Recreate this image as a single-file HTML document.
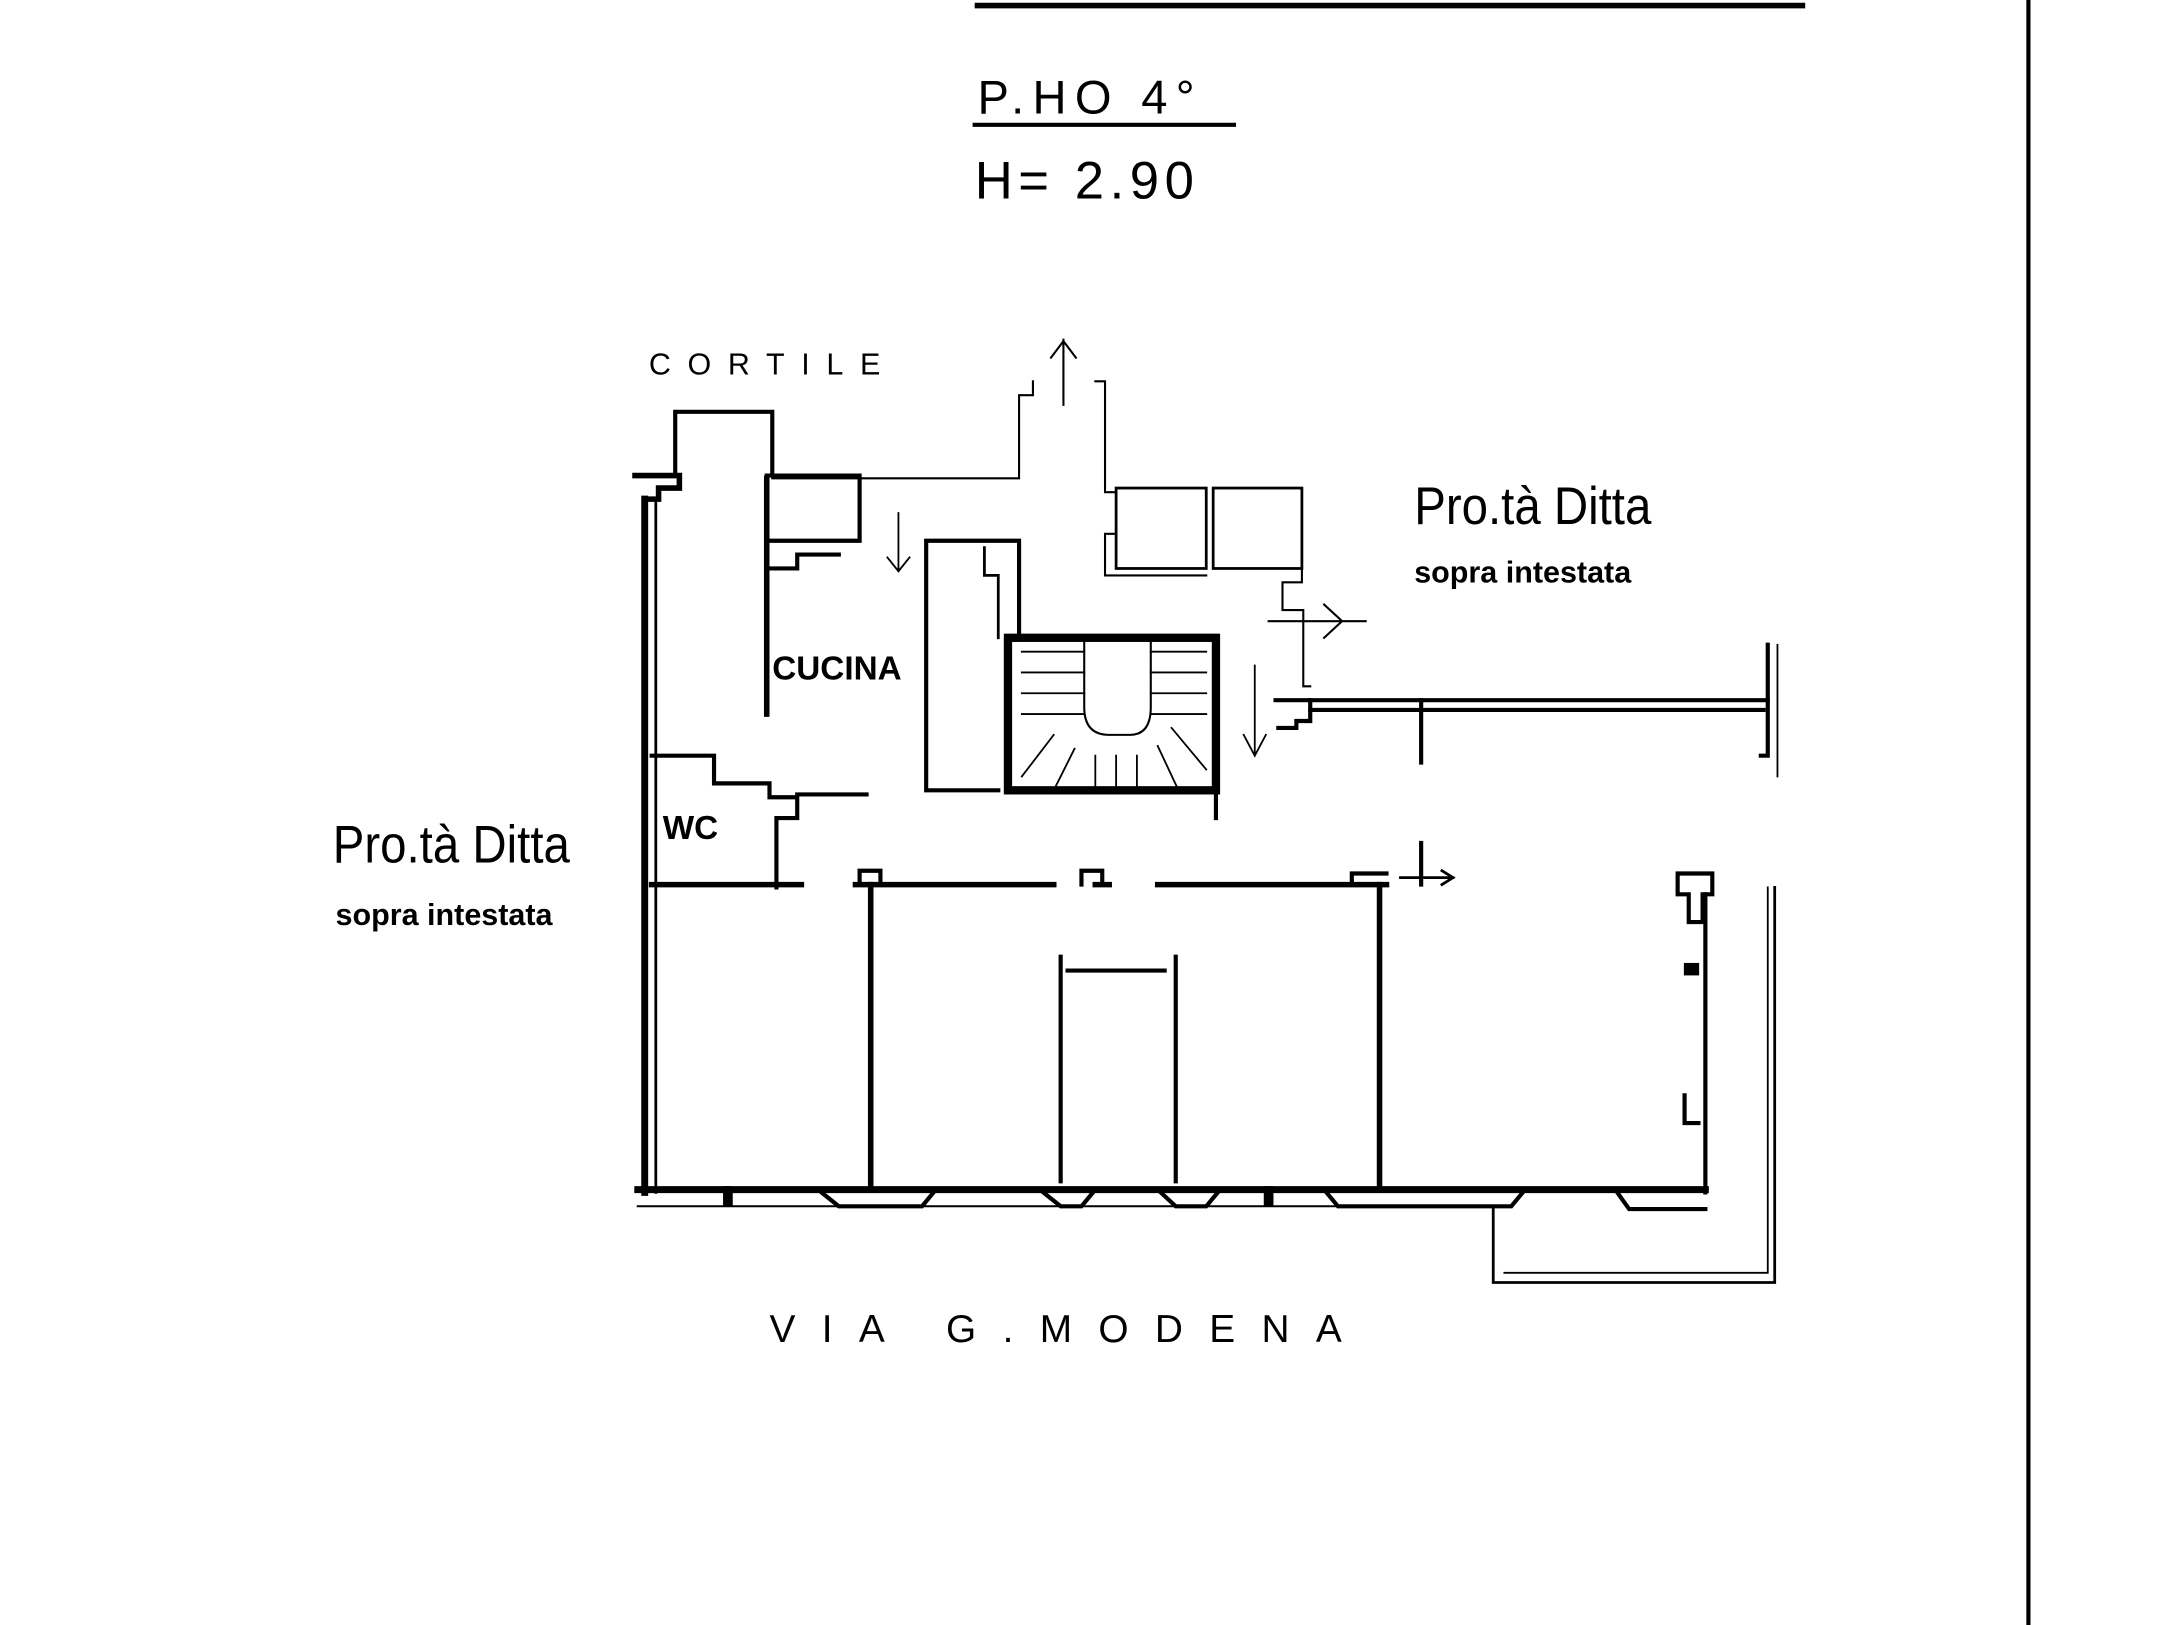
<!DOCTYPE html>
<html><head><style>
html,body{margin:0;padding:0;background:#fff;width:2174px;height:1625px;overflow:hidden}
svg{display:block}
</style></head><body>
<svg width="2174" height="1625" viewBox="0 0 1568 1172" preserveAspectRatio="none" xmlns="http://www.w3.org/2000/svg">
<rect width="1568" height="1172" fill="#fff"/>
<g stroke="#000" fill="none" stroke-linecap="square">
<line x1="705" y1="4" x2="1300" y2="4" stroke-width="4"/>
<line x1="1463" y1="0" x2="1463" y2="1172" stroke-width="3"/>
<line x1="703" y1="90" x2="890" y2="90" stroke-width="3"/>
<path d="M487 340 V297 H557 V340" stroke-width="3"/>
<path d="M458 343 H490 V352 H475 V360 H466" stroke-width="4"/>
<path d="M557 345 H735 V285 H745 V275 M790 275 H797 V355 H805" stroke-width="1.5"/>
<path d="M767 245 V292 M758 258 L767 246 L776 258" stroke-width="1.5"/>
<rect x="805" y="352" width="65" height="58" stroke-width="2"/>
<rect x="875" y="352" width="64" height="58" stroke-width="2"/>
<path d="M805 385 H797 V415 H870 M939 405 V420 H925 V440 H940 V495 H945" stroke-width="1.5"/>
<path d="M915 448 H985 M955 436 L968 448 L955 460" stroke-width="1.5"/>
<path d="M465 360 V860" stroke-width="5"/>
<path d="M473 360 V860" stroke-width="2"/>
<path d="M460 858 H1230" stroke-width="5"/>
<path d="M460 870 H1080" stroke-width="1.5"/>
<path d="M553 345 V515" stroke-width="4"/>
<path d="M553 343 H620 V390 H555" stroke-width="3"/>
<path d="M555 410 H575 V400 H605" stroke-width="3"/>
<path d="M648 370 V412 M640 402 L648 412 L656 402" stroke-width="1.3"/>
<path d="M668 390 H735 V460 M668 390 V570 H720" stroke-width="3"/>
<path d="M710 395 V415 H720 V460" stroke-width="2"/>
<rect x="727" y="460" width="150" height="110" stroke-width="6"/>
<path d="M782 460 V510 Q782 530 800 530 H815 Q830 530 830 510 V460" stroke-width="1.5"/>
<path d="M737 470 H782 M737 485 H782 M737 500 H782 M737 515 H782 M830 470 H870 M830 485 H870 M830 500 H870 M830 515 H870 M760 530 L737 560 M775 540 L760 570 M790 545 V570 M805 545 V570 M820 545 V570 M835 538 L850 570 M845 525 L870 555" stroke-width="1.3"/>
<path d="M877 500 V590" stroke-width="3"/>
<path d="M905 480 V545 M897 530 L905 545 L913 530" stroke-width="1.3"/>
<path d="M470 545 H515 V565 H555 V575 H575 V590 H560 V640" stroke-width="3"/>
<path d="M575 573 H625" stroke-width="3"/>
<path d="M470 638 H578 M617 638 H760 M790 638 H800 M835 638 H1000" stroke-width="4"/>
<path d="M620 638 V628 H635 V638 M780 638 V628 H795 V638 M975 638 V630 H1000" stroke-width="3"/>
<path d="M628 638 V858 M995 638 V858" stroke-width="4"/>
<path d="M765 690 V852 M848 690 V852 M770 700 H840" stroke-width="3"/>
<path d="M945 505 H1275 M945 512 H1272" stroke-width="3"/>
<path d="M920 505 H945 V520 H935 V525 H922" stroke-width="3"/>
<path d="M1025 505 V550 M1025 608 V638" stroke-width="3"/>
<path d="M1275 465 V545 H1270" stroke-width="3"/>
<path d="M1282 465 V560" stroke-width="1.3"/>
<path d="M1280 640 V925 H1077 V870" stroke-width="2"/>
<path d="M1275 640 V918 H1085" stroke-width="1.3"/>
<path d="M1210 630 H1235 V645 H1228 V665 H1218 V645 H1210 Z" stroke-width="3"/>
<path d="M1230 645 V860" stroke-width="3"/>
<path d="M1010 633 H1048 M1040 628 L1048 633 L1040 638" stroke-width="2"/>
<path d="M590 858 L605 870 H665 L675 858 M750 858 L765 870 H780 L790 858 M835 858 L848 870 H870 L880 858 M955 858 L965 870 H1090 L1100 858 M1165 858 L1175 872 H1230" stroke-width="3"/>
<rect x="522" y="856" width="6" height="14" fill="#000"/>
<rect x="912" y="856" width="6" height="14" fill="#000"/>
<rect x="1215" y="695" width="10" height="8" fill="#000"/>
<path d="M1215 790 V810 H1225" stroke-width="3"/>
</g>
<g fill="#000" font-family="Liberation Sans, sans-serif">
<text x="705" y="82" font-size="34" letter-spacing="6">P.HO 4°</text>
<text x="703" y="143" font-size="38" letter-spacing="4">H= 2.90</text>
<text x="468" y="270" font-size="22" letter-spacing="12">CORTILE</text>
<text x="1020" y="378" font-size="38" transform="translate(1020 0) scale(0.9 1) translate(-1020 0)">Pro.tà Ditta</text>
<text x="1020" y="420" font-size="22" font-weight="bold" transform="translate(1020 0) scale(1.0 1) translate(-1020 0)">sopra intestata</text>
<text x="240" y="622" font-size="38" transform="translate(240 0) scale(0.9 1) translate(-240 0)">Pro.tà Ditta</text>
<text x="242" y="667" font-size="22" font-weight="bold">sopra intestata</text>
<text x="557" y="490" font-size="24" font-weight="bold">CUCINA</text>
<text x="478" y="605" font-size="24" font-weight="bold">WC</text>
<text x="555" y="968" font-size="28" letter-spacing="19">VIA  G.MODENA</text>
</g>
</svg>
</body></html>
